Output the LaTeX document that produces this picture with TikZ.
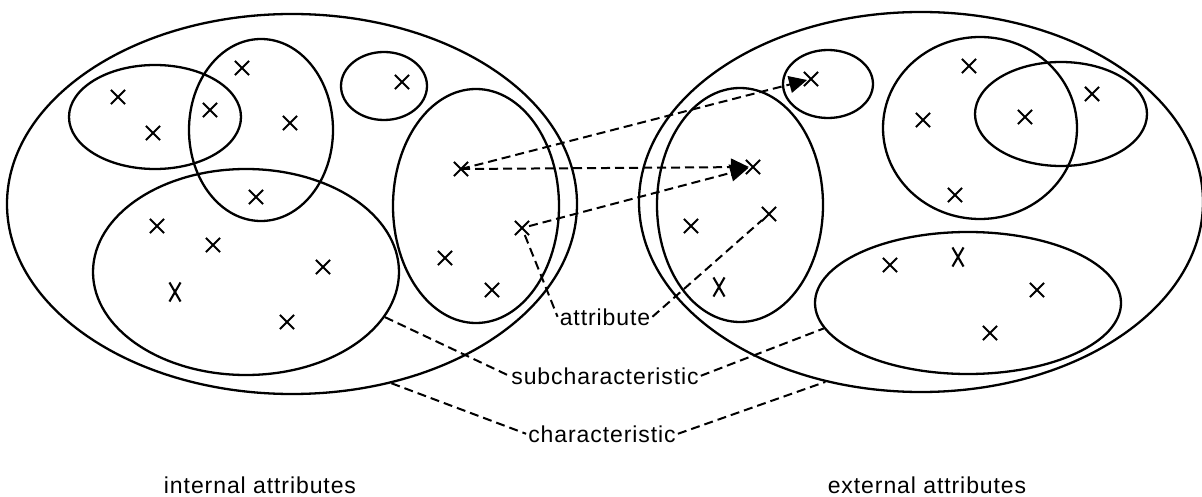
\documentclass[tikz,border=0pt]{standalone}
\usepackage{fontspec}
\setmainfont{Liberation Sans}[LetterSpace=4]
\usetikzlibrary{shapes.geometric, shapes.misc, arrows.meta}

\tikzset{
  region/.style={ellipse, draw, line width=2.3pt, inner sep=0pt},
  cross/.style={cross out, draw, line width=2.1pt, minimum width=12pt, minimum height=12pt, inner sep=0pt},
  tallcross/.style={cross, minimum width=9pt, minimum height=17pt},
  link/.style={line width=2pt, dash pattern=on 9pt off 5pt},
  arrow/.style={link, -{Triangle[length=18pt,width=17pt]}},
  lbl/.style={font=\fontsize{23}{27}\selectfont, inner sep=2pt, anchor=base}
}

\begin{document}
\begin{tikzpicture}[x=1pt, y=-1pt]
\useasboundingbox (0,0) rectangle (1202,497);

% internal attributes
\node (Int) [region, minimum width=570, minimum height=380] at (292,204) {};
\node (I1) [region, minimum width=172, minimum height=104] at (155,117) {};
\node (I2) [region, minimum width=144, minimum height=182] at (261,130) {};
\node (I3) [region, minimum width=86, minimum height=68] at (384,86) {};
\node (I4) [region, minimum width=306, minimum height=206] at (246,272) {};
\node (I5) [region, minimum width=166, minimum height=234] at (476,206) {};

\foreach \n/\x/\y in {a1/118/97, a2/153/133, a3/210/110, a4/242/68, a5/290/123,
  a6/256/197, a7/157/226, a8/213/245, a10/323/267, a11/287/322, a12/402/82,
  a13/461/169, a14/522/228, a15/445/258, a16/492/290}
  \node (\n) [cross] at (\x,\y) {};
\node (a9) [tallcross] at (175,292) {};

% external attributes
\node (Ext) [region, minimum width=564, minimum height=380] at (921,202) {};
\node (E1) [region, minimum width=166, minimum height=234] at (740,205) {};
\node (E2) [region, minimum width=90, minimum height=68] at (828,84) {};
\node (E3) [region, minimum width=194, minimum height=182] at (980,128) {};
\node (E4) [region, minimum width=172, minimum height=104] at (1061,114) {};
\node (E5) [region, minimum width=306, minimum height=142] at (968,303) {};

\foreach \n/\x/\y in {b1/811/79, b2/753/167, b3/691/226, b4/769/214,
  b6/969/66, b7/923/120, b8/1025/117, b9/1092/94, b10/955/195,
  b11/890/265, b13/1037/290, b14/990/333}
  \node (\n) [cross] at (\x,\y) {};
\node (b5) [tallcross] at (719,287) {};
\node (b12) [tallcross] at (958,257) {};

% labels
\node (attr) [lbl] at (605,325) {attribute};
\node (sub) [lbl] at (605,384) {subcharacteristic};
\node (char) [lbl] at (602,442) {characteristic};
\node (intxt) [lbl] at (260,493) {internal attributes};
\node (extxt) [lbl] at (927,493) {external attributes};

% mappings
\draw [arrow, shorten >=4pt] (a13.center) -- (b1.center);
\draw [arrow, shorten >=4pt] (a13.center) -- (b2.center);
\draw [arrow, shorten >=5pt] (a14) -- (b2.center);
\draw [link] (a14) -- (attr.west) (attr.east) -- (b4);
\draw [link] (I4.-18) -- (sub.west) (sub.east) -- (E5.190);
\draw [link] (Int.-61) -- (char.west) (char.east) -- (Ext.242);
\end{tikzpicture}
\end{document}
